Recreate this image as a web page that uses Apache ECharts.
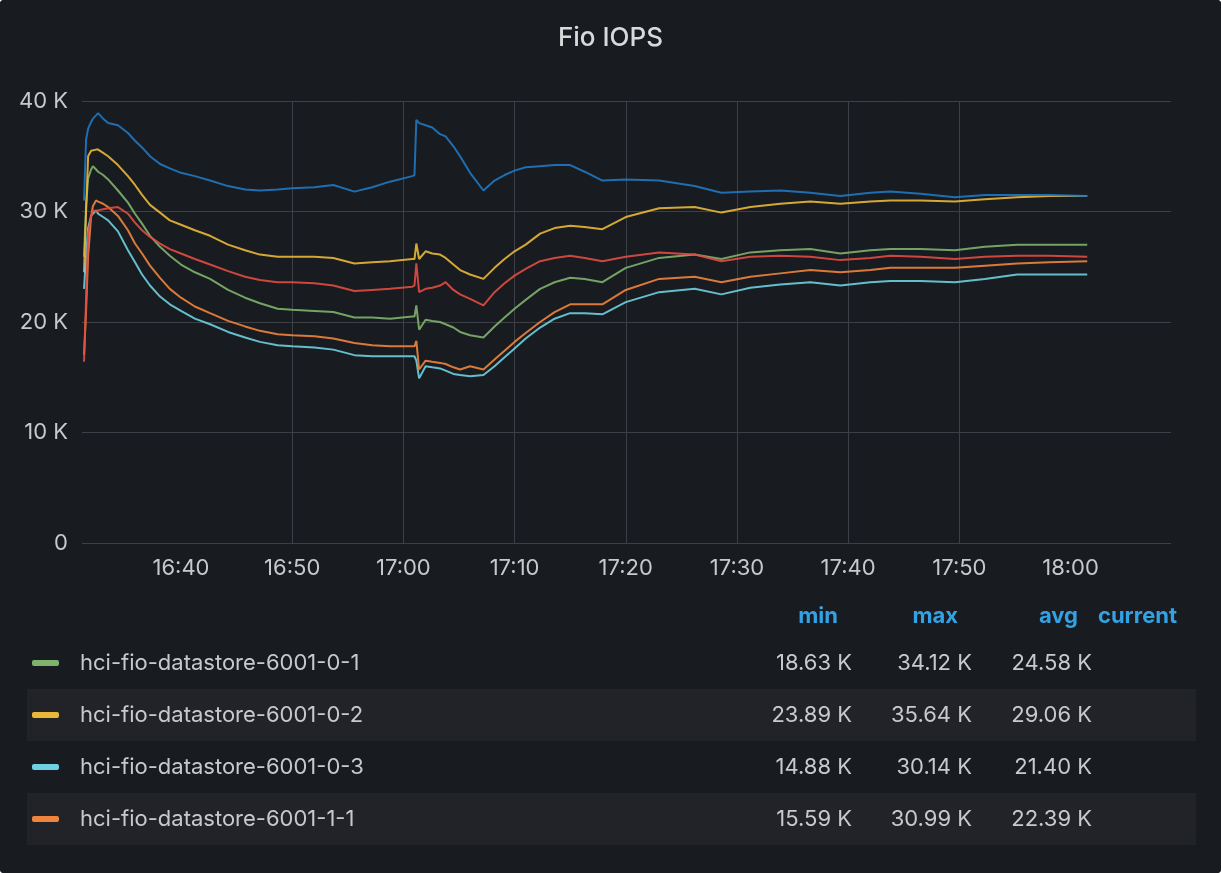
<!DOCTYPE html>
<html>
<head>
<meta charset="utf-8">
<title>Fio IOPS</title>
<script src="https://cdn.jsdelivr.net/npm/echarts@6/dist/echarts.min.js"></script>
<style>
  html, body { margin: 0; padding: 0; background: #ffffff; }
  #chart { width: 1221px; height: 873px; background: #181b1f; border-radius: 4px; overflow: hidden; }
</style>
</head>
<body>
<div id="chart"></div>
<script>
// sample times (all series share them)
const times = [
  '16:31:17', '16:31:28', '16:31:39', '16:31:55', '16:32:05', '16:32:22', '16:32:33', '16:33:00',
  '16:33:27', '16:34:20', '16:35:14', '16:35:52', '16:36:30', '16:37:13', '16:38:07', '16:39:00',
  '16:40:00', '16:41:15', '16:42:37', '16:44:14', '16:45:46', '16:47:06', '16:48:42', '16:50:00',
  '16:52:00', '16:53:42', '16:55:36', '16:57:12', '16:58:48', '17:00:48', '17:01:00', '17:01:10',
  '17:01:25', '17:02:00', '17:02:36', '17:03:18', '17:03:48', '17:04:30', '17:05:06', '17:06:00',
  '17:07:12', '17:08:12', '17:09:06', '17:10:00', '17:11:00', '17:12:18', '17:13:36', '17:15:00',
  '17:16:18', '17:17:54', '17:20:00', '17:23:00', '17:26:12', '17:28:36', '17:31:12', '17:33:54',
  '17:36:36', '17:39:18', '17:42:00', '17:43:48', '17:46:30', '17:49:36', '17:52:18', '17:55:12',
  '17:58:06', '18:01:30'
];

// IOPS in thousands
const ds_0_1 = [
  25.9, 30.5, 33.0, 33.8, 34.1, 33.8, 33.6, 33.3, 32.9, 31.9, 30.8, 29.8, 28.9, 27.8, 26.8, 26.0,
  25.2, 24.5, 23.9, 22.9, 22.2, 21.7, 21.2, 21.1, 21.0, 20.9, 20.4, 20.4, 20.3, 20.5, 20.5, 21.5,
  19.3, 20.2, 20.1, 20.0, 19.8, 19.5, 19.1, 18.8, 18.6, 19.6, 20.4, 21.2, 22.0, 23.0, 23.6, 24.0,
  23.9, 23.6, 24.9, 25.8, 26.1, 25.7, 26.3, 26.5, 26.6, 26.2, 26.5, 26.6, 26.6, 26.5, 26.8, 27.0,
  27.0, 27.0
];
const ds_0_2 = [
  24.5, 30.0, 35.0, 35.5, 35.6, 35.6, 35.6, 35.3, 35.0, 34.2, 33.2, 32.4, 31.5, 30.6, 29.9, 29.2,
  28.8, 28.3, 27.8, 27.0, 26.5, 26.1, 25.9, 25.9, 25.9, 25.8, 25.3, 25.4, 25.5, 25.7, 25.7, 27.1,
  25.7, 26.4, 26.2, 26.1, 25.8, 25.2, 24.7, 24.3, 23.9, 24.9, 25.7, 26.4, 27.0, 28.0, 28.5, 28.7,
  28.6, 28.4, 29.5, 30.3, 30.4, 29.9, 30.4, 30.7, 30.9, 30.7, 30.9, 31.0, 31.0, 30.9, 31.1, 31.3,
  31.4, 31.4
];
const ds_0_3 = [
  23.0, 26.0, 28.5, 29.6, 29.8, 30.1, 29.8, 29.5, 29.2, 28.2, 26.5, 25.4, 24.3, 23.3, 22.3, 21.6,
  21.0, 20.3, 19.8, 19.1, 18.6, 18.2, 17.9, 17.8, 17.7, 17.5, 17.0, 16.9, 16.9, 16.9, 16.9, 16.5,
  14.9, 16.0, 15.9, 15.8, 15.6, 15.3, 15.2, 15.1, 15.2, 16.0, 16.8, 17.6, 18.5, 19.5, 20.3, 20.8,
  20.8, 20.7, 21.8, 22.7, 23.0, 22.5, 23.1, 23.4, 23.6, 23.3, 23.6, 23.7, 23.7, 23.6, 23.9, 24.3,
  24.3, 24.3
];
const ds_1_1 = [
  17.0, 21.0, 26.0, 29.5, 30.5, 31.0, 30.9, 30.7, 30.4, 29.6, 28.3, 27.1, 26.2, 25.1, 24.0, 23.0,
  22.2, 21.4, 20.8, 20.1, 19.6, 19.2, 18.9, 18.8, 18.7, 18.5, 18.1, 17.9, 17.8, 17.8, 17.8, 18.3,
  15.7, 16.5, 16.4, 16.3, 16.2, 15.9, 15.7, 16.0, 15.7, 16.6, 17.4, 18.2, 19.0, 20.0, 20.9, 21.6,
  21.6, 21.6, 22.9, 23.9, 24.1, 23.6, 24.1, 24.4, 24.7, 24.5, 24.7, 24.9, 24.9, 24.9, 25.1, 25.3,
  25.4, 25.5
];
const ds_1_2 = [
  16.4, 22.0, 28.0, 29.5, 30.1, 30.0, 30.1, 30.2, 30.3, 30.4, 29.8, 29.0, 28.3, 27.7, 27.1, 26.6,
  26.2, 25.7, 25.2, 24.6, 24.1, 23.8, 23.6, 23.6, 23.5, 23.3, 22.8, 22.9, 23.0, 23.2, 23.3, 25.3,
  22.7, 23.0, 23.1, 23.3, 23.6, 22.9, 22.5, 22.1, 21.5, 22.7, 23.5, 24.2, 24.8, 25.5, 25.8, 26.0,
  25.8, 25.5, 25.9, 26.3, 26.1, 25.5, 25.9, 26.0, 25.9, 25.6, 25.8, 26.0, 25.9, 25.7, 25.9, 26.0,
  26.0, 25.9
];
const ds_1_3 = [
  31.0, 36.5, 37.5, 38.1, 38.4, 38.7, 38.9, 38.4, 38.0, 37.8, 37.1, 36.4, 35.8, 35.0, 34.3, 33.9,
  33.5, 33.2, 32.8, 32.3, 32.0, 31.9, 32.0, 32.1, 32.2, 32.4, 31.8, 32.2, 32.7, 33.2, 33.3, 38.3,
  38.0, 37.8, 37.6, 37.0, 36.8, 35.9, 35.0, 33.5, 31.9, 32.8, 33.3, 33.7, 34.0, 34.1, 34.2, 34.2,
  33.6, 32.8, 32.9, 32.8, 32.3, 31.7, 31.8, 31.9, 31.7, 31.4, 31.7, 31.8, 31.6, 31.3, 31.5, 31.5,
  31.5, 31.4
];

const seriesNames = [
  'hci-fio-datastore-6001-0-1', 'hci-fio-datastore-6001-0-2', 'hci-fio-datastore-6001-0-3',
  'hci-fio-datastore-6001-1-1', 'hci-fio-datastore-6001-1-2', 'hci-fio-datastore-6001-1-3'
];
const seriesValues = [ds_0_1, ds_0_2, ds_0_3, ds_1_1, ds_1_2, ds_1_3];
const seriesColors = ['#7EB26D', '#EAB839', '#6ED0E0', '#EF843C', '#E24D42', '#1F78C1'];

// legend table (only the first four rows are visible in the panel)
const legendRows = 4;
const statMin = [18.63, 23.89, 14.88, 15.59];
const statMax = [34.12, 35.64, 30.14, 30.99];
const statAvg = [24.58, 29.06, 21.40, 22.39];
const statHeaders = ['min', 'max', 'avg', 'current'];

const yTicks = [0, 10, 20, 30, 40];
const xTicks = ['16:40', '16:50', '17:00', '17:10', '17:20', '17:30', '17:40', '17:50', '18:00'];

const day = '2021-03-15 ';
const toTime = s => new Date((day + s).replace(' ', 'T')).getTime();
const tickTimes = xTicks.map(t => toTime(t + ':00'));

const textColor = '#c8c9ce';
const gridColor = '#3d4046';
const font = 'Inter, Roboto, sans-serif';

const chart = echarts.init(document.getElementById('chart'));

const graphic = [];
// header row
const headerRight = [838, 958, 1078, 1177];
statHeaders.forEach((h, i) => {
    graphic.push({
        type: 'text', x: headerRight[i], y: 616,
        style: { text: h, fill: '#33a2e5', font: 'bold 22px ' + font, textAlign: 'right', textVerticalAlign: 'middle' }
    });
});
const valueRight = [852, 972, 1092];
for (let i = 0; i < legendRows; i++) {
    const cy = 663 + i * 52;
    if (i % 2 === 1) {
        graphic.push({ type: 'rect', shape: { x: 27, y: cy - 26, width: 1169, height: 52 }, style: { fill: '#212329' }, z: -1 });
    }
    graphic.push({ type: 'rect', shape: { x: 32, y: cy - 3, width: 27, height: 6, r: 2 }, style: { fill: seriesColors[i] } });
    graphic.push({
        type: 'text', x: 80, y: cy,
        style: { text: seriesNames[i], fill: textColor, font: '22px ' + font, textVerticalAlign: 'middle' }
    });
    [statMin[i], statMax[i], statAvg[i]].forEach((v, j) => {
        graphic.push({
            type: 'text', x: valueRight[j], y: cy,
            style: { text: v.toFixed(2) + ' K', fill: textColor, font: '22px ' + font, textAlign: 'right', textVerticalAlign: 'middle' }
        });
    });
}

const pad2 = n => String(n).padStart(2, '0');

const option = {
    backgroundColor: '#181b1f',
    animation: false,
    title: {
        text: 'Fio IOPS',
        left: 'center',
        top: 20,
        textStyle: { color: '#d8d9da', fontSize: 26, fontWeight: 500, fontFamily: font }
    },
    grid: { left: 82, right: 50, top: 101, bottom: 330 },
    xAxis: {
        type: 'value',
        min: toTime('16:31:06'),
        max: toTime('18:09:02'),
        axisLine: { show: false },
        axisTick: { show: false, customValues: tickTimes },
        axisLabel: {
            color: textColor, fontSize: 22, fontFamily: font, margin: 14,
            customValues: tickTimes,
            formatter: v => {
                const d = new Date(v);
                return pad2(d.getHours()) + ':' + pad2(d.getMinutes());
            }
        },
        splitLine: { show: true, showMinLine: false, showMaxLine: false, lineStyle: { color: gridColor, width: 1 } }
    },
    yAxis: {
        type: 'value',
        min: yTicks[0],
        max: yTicks[yTicks.length - 1],
        interval: 10,
        axisLine: { show: false },
        axisTick: { show: false },
        axisLabel: {
            color: textColor, fontSize: 22, fontFamily: font, margin: 14,
            formatter: v => v === 0 ? '0' : v + ' K'
        },
        splitLine: { lineStyle: { color: gridColor, width: 1 } }
    },
    series: seriesNames.map((name, i) => ({
        name: name,
        type: 'line',
        showSymbol: false,
        smooth: false,
        color: seriesColors[i],
        lineStyle: { width: 2, opacity: 0.9 },
        data: times.map((t, k) => [toTime(t), seriesValues[i][k]])
    })),
    graphic: graphic
};

chart.setOption(option);
</script>
</body>
</html>
